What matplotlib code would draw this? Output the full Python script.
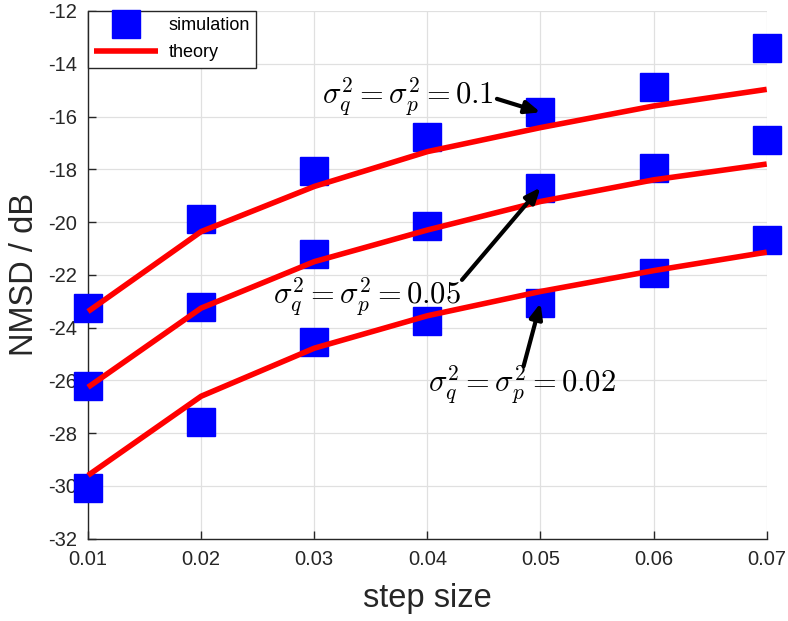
import matplotlib
matplotlib.use("Agg")
import matplotlib.pyplot as plt
import numpy as np

plt.rcParams['font.family'] = ['Liberation Sans', 'DejaVu Sans']
plt.rcParams['mathtext.fontset'] = 'cm'

step_size = [0.01, 0.02, 0.03, 0.04, 0.05, 0.06, 0.07]

sim_01 = [-23.25, -19.9, -18.06, -16.76, -15.84, -14.87, -13.39]
sim_005 = [-26.2, -23.2, -21.22, -20.14, -18.69, -17.94, -16.89]
sim_002 = [-30.08, -27.56, -24.53, -23.74, -23.07, -21.94, -20.67]

theory_01 = [-23.39, -20.36, -18.65, -17.33, -16.42, -15.6, -14.97]
theory_005 = [-26.26, -23.26, -21.5, -20.3, -19.22, -18.4, -17.8]
theory_002 = [-29.6, -26.6, -24.78, -23.55, -22.63, -21.84, -21.14]

xticks = [0.01, 0.02, 0.03, 0.04, 0.05, 0.06, 0.07]
yticks = [-32, -30, -28, -26, -24, -22, -20, -18, -16, -14, -12]

labels = [r'$\sigma_q^2=\sigma_p^2=0.1$', r'$\sigma_q^2=\sigma_p^2=0.05$',
          r'$\sigma_q^2=\sigma_p^2=0.02$']

fig = plt.figure(figsize=(7.88, 6.21), dpi=100)
ax = fig.add_axes([0.1117, 0.1325, 0.8613, 0.8498])

dark = '#262626'
for i, (s, t) in enumerate([(sim_01, theory_01), (sim_005, theory_005), (sim_002, theory_002)]):
    ax.plot(step_size, s, linestyle='none', marker='s', markersize=20,
            color='#0000ff', markeredgecolor='#0000ff', clip_on=False, zorder=3,
            label='simulation' if i == 0 else None)
    ax.plot(step_size, t, color='#ff0000', linewidth=4, clip_on=False, zorder=4,
            solid_capstyle='butt', label='theory' if i == 0 else None)

ax.set_xlim(0.01, 0.07)
ax.set_ylim(-32, -12)
ax.set_xticks(xticks)
ax.set_xticklabels(['%.2f' % v for v in xticks])
ax.set_yticks(yticks)
ax.set_yticklabels([str(v) for v in yticks])
ax.tick_params(direction='in', length=6, width=1, colors=dark, labelsize=14.5, pad=8)
ax.grid(True, color='#e0e0e0', linewidth=0.9)
ax.set_axisbelow(True)
for sp in ['top', 'right']:
    ax.spines[sp].set_visible(False)
for sp in ['left', 'bottom']:
    ax.spines[sp].set_color(dark)
    ax.spines[sp].set_linewidth(1)

ax.set_xlabel('step size', fontsize=23.5, color=dark, labelpad=10)
ax.set_ylabel('NMSD / dB', fontsize=23.5, color=dark, labelpad=6)

# annotations
ax.text(0.0383, -15.26, labels[0], fontsize=22, ha='center', va='center', zorder=7)
ax.text(0.0347, -22.83, labels[1], fontsize=22, ha='center', va='center', zorder=7)
ax.text(0.0484, -26.17, labels[2], fontsize=22, ha='center', va='center', zorder=7)
arrowprops = dict(arrowstyle='-|>,head_length=0.9,head_width=0.38', color='black', lw=3,
                  shrinkA=0, shrinkB=0)
ax.annotate('', xy=(0.05, sim_01[4]), xytext=(0.04615, -15.33), arrowprops=arrowprops, zorder=6)
ax.annotate('', xy=(0.05, sim_005[4]), xytext=(0.04306, -22.19), arrowprops=arrowprops, zorder=6)
ax.annotate('', xy=(0.05, sim_002[4]), xytext=(0.0485, -25.47), arrowprops=arrowprops, zorder=6)

leg = ax.legend(loc='upper left', bbox_to_anchor=(0.0, 1.0), fontsize=13, frameon=True,
                fancybox=False, borderaxespad=0, handlelength=3.5, markerscale=1.0,
                borderpad=0.35, labelspacing=0.55, handletextpad=0.6)
leg.get_frame().set_edgecolor(dark)
leg.get_frame().set_linewidth(1)
leg.get_frame().set_alpha(1)

fig.savefig('out.png', dpi=100)
